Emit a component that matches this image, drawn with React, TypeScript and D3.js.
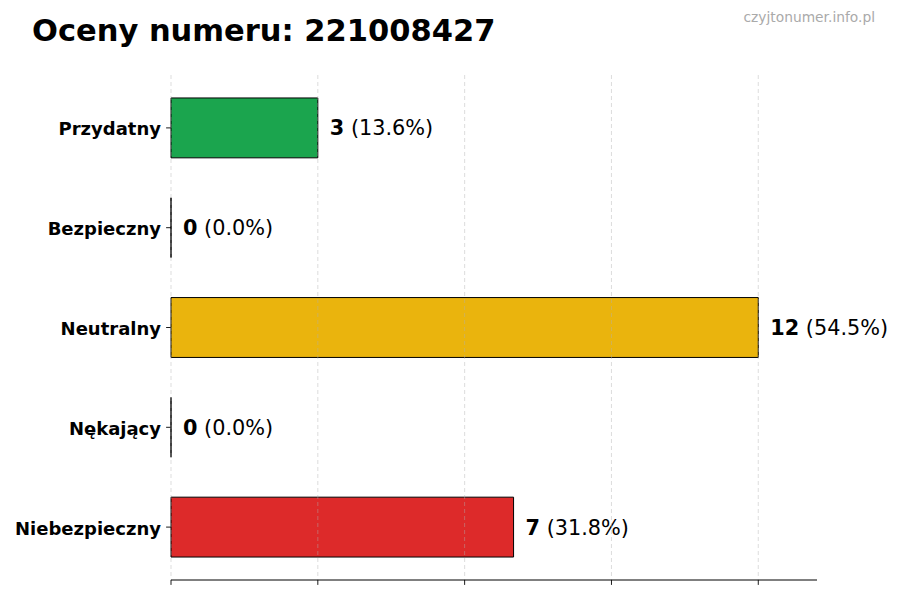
import React from "react";
import * as d3 from "d3";

const categories = ["Przydatny", "Bezpieczny", "Neutralny", "Nękający", "Niebezpieczny"];
const values = [3, 0, 12, 0, 7];
const colors = ["#16a34a", "#16a34a", "#eab308", "#dc2626", "#dc2626"];
const xTicks = [0, 3, 6, 9, 12];
const title = "Oceny numeru: 221008427";
const watermark = "czyjtonumer.info.pl";

const W = 900;
const H = 600;
const FONT = "'DejaVu Sans', sans-serif";

export default function App() {
  const total = d3.sum(values);
  const maxV = d3.max(values) ?? 1;
  const x = d3.scaleLinear().domain([0, maxV * 1.1]).range([171, 817]);
  const y = d3.scaleLinear().domain([-0.53, categories.length - 1 + 0.53]).range([75, 580]);
  const bh = y(0.3) - y(-0.3);
  const [top, bottom] = y.range();

  return (
    <svg width={W} height={H} style={{ position: "absolute", left: 0, top: 0, background: "#fff" }} fontFamily={FONT}>
      <rect x={0} y={0} width={W} height={H} fill="#fff" />
      <text x={32} y={41} fontSize={30.5} fontWeight="bold" fill="#000">{title}</text>
      <text x={875} y={22} fontSize={13.8} fill="#aaaaaa" textAnchor="end">{watermark}</text>

      {categories.map((c, i) => {
        const v = values[i];
        const yc = y(i);
        const x0 = x(0);
        const x1 = x(v);
        const pct = total ? (v / total) * 100 : 0;
        return (
          <g key={c}>
            <path
              d={`M${x0},${yc - bh / 2}H${x1}V${yc + bh / 2}H${x0}Z`}
              fill={colors[i]}
              fillOpacity={0.98}
              stroke="#000"
              strokeWidth={1}
            />
            <line x1={x0 - 4.9} x2={x0} y1={yc} y2={yc} stroke="#000" strokeWidth={0.9} />
            <text x={x0 - 10} y={yc + 1} fontSize={18} fontWeight="bold" textAnchor="end" dominantBaseline="central">{c}</text>
            <text x={x1 + 12} y={yc + 0.5} fontSize={20.8} dominantBaseline="central">
              <tspan fontWeight="bold">{v}</tspan>
              <tspan> ({pct.toFixed(1)}%)</tspan>
            </text>
          </g>
        );
      })}

      {xTicks.map((t) => (
        <g key={t}>
          <line x1={x(t)} x2={x(t)} y1={top} y2={bottom} stroke="#b0b0b0" strokeOpacity={0.55} strokeDasharray="4,3" strokeWidth={0.8} />
          <line x1={x(t)} x2={x(t)} y1={bottom} y2={bottom + 4.9} stroke="#000" strokeWidth={0.9} />
        </g>
      ))}
      <line x1={x(0)} x2={x.range()[1]} y1={bottom} y2={bottom} stroke="#000" strokeWidth={1} />
    </svg>
  );
}
